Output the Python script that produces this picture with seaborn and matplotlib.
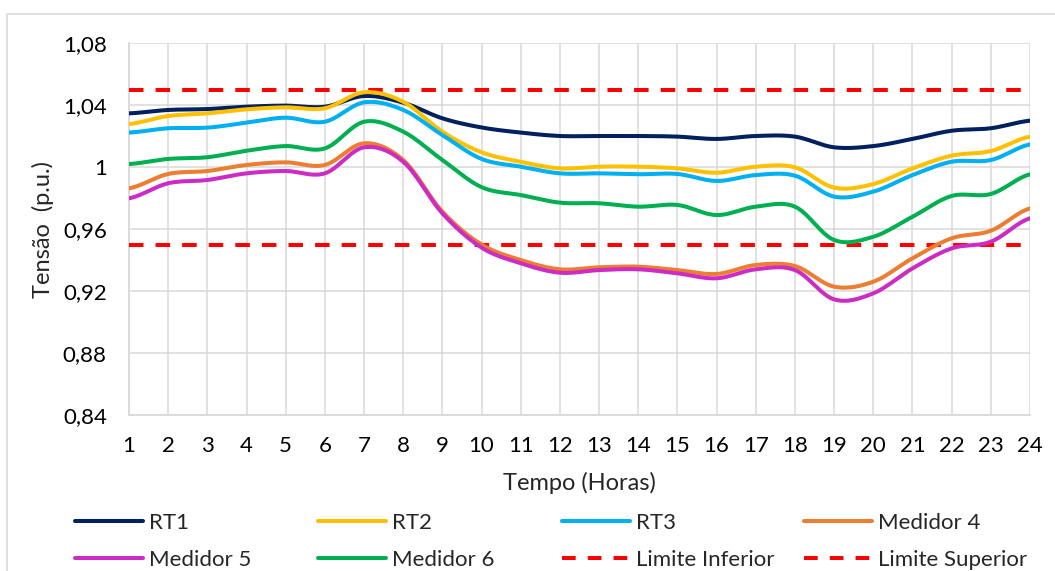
import numpy as np
import pandas as pd
import seaborn as sns
import matplotlib.pyplot as plt
from matplotlib.lines import Line2D
from matplotlib.patches import Rectangle
from matplotlib.ticker import FuncFormatter, MultipleLocator

# hourly voltage readings (p.u.)
hours = list(range(1, 25))
rt1 = [1.0346, 1.0368, 1.0374, 1.0389, 1.0396, 1.0389, 1.0458, 1.0415, 1.0314, 1.0255, 1.0222, 1.0200,
       1.0200, 1.0200, 1.0196, 1.0181, 1.0200, 1.0196, 1.0127, 1.0135, 1.0181, 1.0234, 1.0250, 1.0299]
rt2 = [1.0277, 1.0329, 1.0346, 1.0372, 1.0385, 1.0379, 1.0482, 1.0421, 1.0228, 1.0095, 1.0034, 0.9991,
       1.0002, 1.0002, 0.9991, 0.9963, 1.0002, 0.9998, 0.9867, 0.9890, 0.9991, 1.0073, 1.0103, 1.0196]
rt3 = [1.0222, 1.0250, 1.0254, 1.0286, 1.0318, 1.0292, 1.0417, 1.0368, 1.0206, 1.0052, 1.0002, 0.9959,
       0.9959, 0.9953, 0.9955, 0.9910, 0.9948, 0.9944, 0.9809, 0.9841, 0.9948, 1.0034, 1.0045, 1.0146]
med4 = [0.9862, 0.9955, 0.9974, 1.0013, 1.0030, 1.0013, 1.0153, 1.0045, 0.9712, 0.9500, 0.9400, 0.9340,
        0.9353, 0.9357, 0.9335, 0.9310, 0.9368, 0.9361, 0.9228, 0.9260, 0.9411, 0.9540, 0.9589, 0.9733]
med5 = [0.9798, 0.9895, 0.9916, 0.9959, 0.9974, 0.9959, 1.0127, 1.0034, 0.9701, 0.9480, 0.9379, 0.9318,
        0.9335, 0.9340, 0.9314, 0.9282, 0.9340, 0.9335, 0.9146, 0.9185, 0.9346, 0.9475, 0.9518, 0.9669]
med6 = [1.0019, 1.0052, 1.0063, 1.0105, 1.0135, 1.0120, 1.0292, 1.0228, 1.0045, 0.9870, 0.9819, 0.9770,
        0.9766, 0.9744, 0.9755, 0.9690, 0.9744, 0.9744, 0.9529, 0.9550, 0.9679, 0.9813, 0.9826, 0.9953]
lim_inf = [0.95] * 24
lim_sup = [1.05] * 24

series_names = ['RT1', 'RT2', 'RT3', 'Medidor 4', 'Medidor 5', 'Medidor 6', 'Limite Inferior', 'Limite Superior']
series_vals = [rt1, rt2, rt3, med4, med5, med6, lim_inf, lim_sup]
colors = ['#002060', '#FFC000', '#00B0F0', '#ED7D31', '#CC2CC4', '#00B050', '#FF0000', '#FF0000']


def smooth(x, y, n=12):
    # catmull-rom style curve like excel "smoothed line" (drawing only)
    x = np.asarray(x, float)
    y = np.asarray(y, float)
    xs, ys = [], []
    for i in range(len(x) - 1):
        y0 = y[i - 1] if i > 0 else y[i]
        y3 = y[i + 2] if i + 2 < len(y) else y[i + 1]
        m1 = (y[i + 1] - y0) / 2
        m2 = (y3 - y[i]) / 2
        t = np.linspace(0, 1, n, endpoint=False)
        h00 = 2 * t**3 - 3 * t**2 + 1
        h10 = t**3 - 2 * t**2 + t
        h01 = -2 * t**3 + 3 * t**2
        h11 = t**3 - t**2
        xs.extend(x[i] + t * (x[i + 1] - x[i]))
        ys.extend(h00 * y[i] + h10 * m1 + h01 * y[i + 1] + h11 * m2)
    xs.append(x[-1])
    ys.append(y[-1])
    return np.array(xs), np.array(ys)


sns.set_style('white')
plt.rcParams['font.family'] = ['Lato', 'DejaVu Sans']
plt.rcParams['font.size'] = 16

fig = plt.figure(figsize=(10.55, 5.71), dpi=100)
ax = fig.add_axes([129 / 1055, 1 - 415 / 571, 901 / 1055, 372 / 571])

lw = 2.9
handles = []
for name, vals, c in zip(series_names, series_vals, colors):
    dashed = name.startswith('Limite')
    if dashed:
        sns.lineplot(x=hours, y=vals, color=c, lw=lw, ax=ax, zorder=3)
        ax.lines[-1].set_dashes((3.6, 3.0))
    else:
        sx, sy = smooth(hours, vals)
        sns.lineplot(x=sx, y=sy, color=c, lw=lw, ax=ax, zorder=4, sort=False)
    ax.lines[-1].set_solid_capstyle('round')
    h = Line2D([], [], color=c, lw=lw, solid_capstyle='round')
    if dashed:
        h.set_dashes((3.4, 3.0))
    handles.append(h)

ax.set_xlim(1, 24)
ax.set_ylim(0.84, 1.08)
ax.set_xticks(hours)
ax.yaxis.set_major_locator(MultipleLocator(0.04))
ax.yaxis.set_major_formatter(FuncFormatter(lambda v, p: f'{v:.2f}'.rstrip('0').rstrip('.').replace('.', ',')))
ax.grid(True, color='#d9d9d9', lw=1.1)
ax.set_axisbelow(True)
for side in ['top', 'right']:
    ax.spines[side].set_visible(False)
for side in ['left', 'bottom']:
    ax.spines[side].set_color('#d9d9d9')
    ax.spines[side].set_linewidth(1.3)
ax.tick_params(axis='both', length=0, labelsize=16, colors='#000000')
ax.tick_params(axis='y', pad=16)
ax.tick_params(axis='x', pad=15)

ax.set_xlabel('Tempo (Horas)', fontsize=17)
ax.set_ylabel('Tensão  (p.u.)', fontsize=17)
ax.xaxis.set_label_coords(0.5, -0.152)
ax.yaxis.set_label_coords(-0.083, 0.5)

# legend: 4 columns x 2 rows, fixed column starts like excel
col_x = [75, 318, 562, 804]
row_y = [523, 560]
for k, (h, name) in enumerate(zip(handles, series_names)):
    r, c = divmod(k, 4)
    fig.legend(handles=[h], labels=[name], loc='center left',
               bbox_to_anchor=(col_x[c] / 1055, 1 - row_y[r] / 571), frameon=False,
               borderpad=0, borderaxespad=0, handlelength=3.05, handletextpad=0.3,
               fontsize=16)

# chart area border
fig.patches.append(Rectangle((7 / 1055, -0.1), 1.2, 1 - 14 / 571 + 0.1, transform=fig.transFigure,
                             fill=False, edgecolor='#d9d9d9', lw=1.2))

fig.savefig('out.png', dpi=100)
